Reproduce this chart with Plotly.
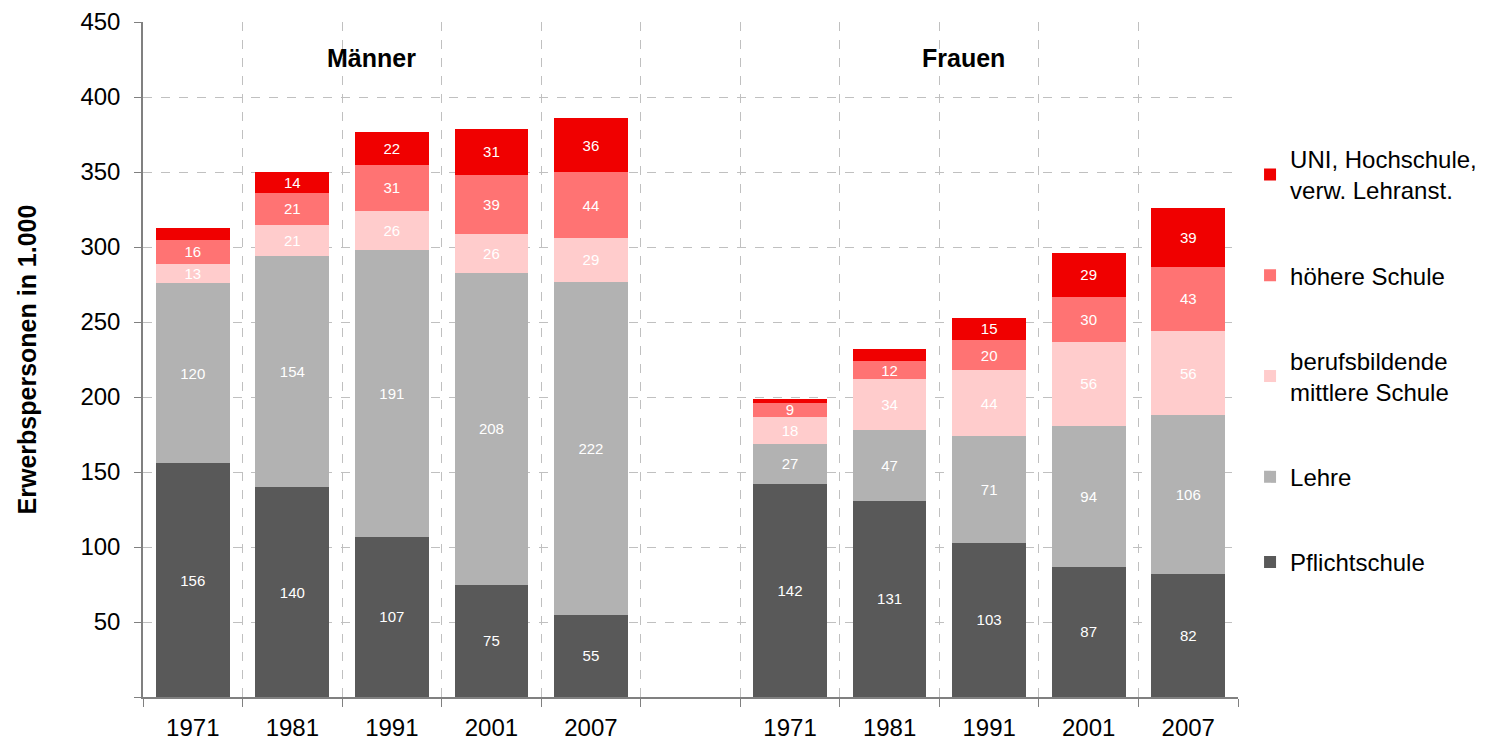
import plotly.graph_objects as go

# Data (Erwerbspersonen in 1.000)
groups = ["Männer", "Frauen"]
years = ["1971", "1981", "1991", "2001", "2007"]

pflicht_m = [156, 140, 107, 75, 55]
lehre_m = [120, 154, 191, 208, 222]
bms_m = [13, 21, 26, 26, 29]
hoehere_m = [16, 21, 31, 39, 44]
uni_m = [8, 14, 22, 31, 36]

pflicht_f = [142, 131, 103, 87, 82]
lehre_f = [27, 47, 71, 94, 106]
bms_f = [18, 34, 44, 56, 56]
hoehere_f = [9, 12, 20, 30, 43]
uni_f = [3, 8, 15, 29, 39]

series_names = [
    "Pflichtschule",
    "Lehre",
    "berufsbildende<br>mittlere Schule",
    "höhere Schule",
    "UNI, Hochschule,<br>verw. Lehranst.",
]
series_m = [pflicht_m, lehre_m, bms_m, hoehere_m, uni_m]
series_f = [pflicht_f, lehre_f, bms_f, hoehere_f, uni_f]
colors = ["#595959", "#B2B2B2", "#FFCCCC", "#FF7373", "#F00000"]

# x slots: 0-4 men, 5 gap, 6-10 women
x_m = list(range(0, 5))
x_f = list(range(6, 11))
xs = x_m + x_f

FONT = "Liberation Sans, Arial, sans-serif"

fig = go.Figure()
for i, (name, vm, vf, col) in enumerate(zip(series_names, series_m, series_f, colors)):
    vals = vm + vf
    if i == 4:
        texts = [str(v) if v >= 10 else "" for v in vals]
    else:
        texts = [str(v) for v in vals]
    fig.add_trace(go.Bar(
        x=xs, y=vals, name=name, marker=dict(color=col, line=dict(width=0)),
        text=texts, textposition="inside", insidetextanchor="middle",
        textangle=0, constraintext="none",
        textfont=dict(color="white", size=15, family=FONT),
        width=0.74, legendgroup=f"g{i}", legendrank=10 - i,
    ))

tickvals = xs
ticktext = years + years

fig.update_layout(
    barmode="stack",
    width=1474, height=739,
    margin=dict(l=135, r=244, t=14, b=50, autoexpand=False),
    paper_bgcolor="white", plot_bgcolor="white",
    font=dict(family=FONT, color="black", size=24),
    showlegend=True,
    legend=dict(
        x=1.011, y=0.83, xanchor="left", yanchor="top",
        traceorder="grouped", tracegroupgap=51,
        font=dict(size=24, family=FONT),
        itemwidth=30, bgcolor="rgba(0,0,0,0)",
    ),
    xaxis=dict(
        range=[-0.5, 10.5], automargin=False,
        tickmode="array", tickvals=tickvals, ticktext=ticktext,
        ticks="", showgrid=False,
        showline=True, linecolor="#808080", linewidth=1.5,
        tickfont=dict(size=24, family=FONT),
        ticklabelstandoff=8,
        minor=dict(tickmode="linear", tick0=-0.5, dtick=1,
                   ticks="outside", ticklen=8, tickcolor="#808080",
                   showgrid=True, gridcolor="#C0C0C0", griddash="dash", gridwidth=1),
        zeroline=False,
    ),
    yaxis=dict(
        range=[0, 450], automargin=False,
        tickmode="array", tickvals=list(range(0, 451, 50)),
        ticktext=[""] + [str(v) for v in range(50, 451, 50)],
        ticks="outside", ticklen=7, tickcolor="#808080",
        ticklabelstandoff=9,
        showgrid=True, gridcolor="#C0C0C0", griddash="dash", gridwidth=1,
        showline=True, linecolor="#808080", linewidth=1.5,
        tickfont=dict(size=24, family=FONT),
        title=dict(text="<b>Erwerbspersonen in 1.000</b>", font=dict(size=25, family=FONT), standoff=37),
        zeroline=False,
    ),
)

# group labels
fig.add_annotation(x=1.8, y=426, xref="x", yref="y", text="<b>Männer</b>",
                   showarrow=False, font=dict(size=25, family=FONT))
fig.add_annotation(x=7.74, y=426, xref="x", yref="y", text="<b>Frauen</b>",
                   showarrow=False, font=dict(size=25, family=FONT))

fig.write_html("out.html")
